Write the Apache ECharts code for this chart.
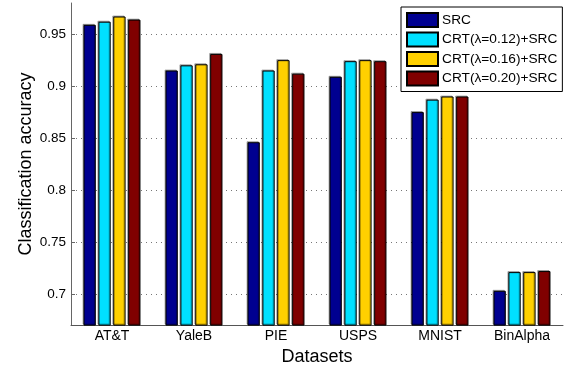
<!DOCTYPE html>
<html>
<head>
<meta charset="utf-8">
<script src="https://cdn.jsdelivr.net/npm/echarts@6/dist/echarts.min.js"></script>
<style>html,body{margin:0;padding:0;background:#fff}#c{width:567px;height:371px}</style>
</head>
<body>
<div id="c"></div>
<script>
var categories = ['AT&T', 'YaleB', 'PIE', 'USPS', 'MNIST', 'BinAlpha'];
var seriesNames = ['SRC', 'CRT(λ=0.12)+SRC', 'CRT(λ=0.16)+SRC', 'CRT(λ=0.20)+SRC'];
var srcVals   = [0.959, 0.915, 0.846, 0.909, 0.875, 0.703];
var crt012    = [0.962, 0.920, 0.915, 0.924, 0.887, 0.721];
var crt016    = [0.967, 0.921, 0.925, 0.925, 0.890, 0.721];
var crt020    = [0.964, 0.931, 0.912, 0.924, 0.890, 0.722];
var yTicks = [0.7, 0.75, 0.8, 0.85, 0.9, 0.95];
var colors = ['#000090', '#00E0FF', '#FFD000', '#800000'];

var allVals = [srcVals, crt012, crt016, crt020];
var font = 'Liberation Sans, Arial, sans-serif';
var series = allVals.map(function (vals, i) {
  return {
    name: seriesNames[i],
    type: 'bar',
    data: vals,
    barWidth: '15%',
    barGap: '21%',
    itemStyle: {
      color: colors[i],
      borderColor: '#000',
      borderWidth: 1,
      shadowColor: 'rgba(0,0,0,0.3)',
      shadowOffsetX: -1,
      shadowOffsetY: -1,
      shadowBlur: 0
    }
  };
});

var chart = echarts.init(document.getElementById('c'), null, {renderer: 'canvas'});
chart.setOption({
  animation: false,
  backgroundColor: '#fff',
  grid: {left: 71, right: 4, top: 3, bottom: 41},
  legend: {
    orient: 'vertical',
    left: 401,
    top: 7,
    padding: [5, 5, 5, 5],
    itemWidth: 31,
    itemHeight: 14,
    itemGap: 3.5,
    icon: 'rect',
    borderColor: '#000',
    borderWidth: 1,
    backgroundColor: '#fff',
    textStyle: {fontFamily: font, fontSize: 13.7, color: '#000', padding: [0, 0, 0, -1]},
    data: seriesNames
  },
  xAxis: {
    type: 'category',
    data: categories,
    name: 'Datasets',
    nameLocation: 'middle',
    nameGap: 19,
    nameTextStyle: {fontFamily: font, fontSize: 18, color: '#000'},
    axisLine: {lineStyle: {color: '#555', width: 1}},
    axisTick: {inside: true, alignWithLabel: true, length: 3, lineStyle: {color: '#555'}},
    axisLabel: {fontFamily: font, fontSize: 14, color: '#000', margin: 4}
  },
  yAxis: {
    type: 'value',
    min: 0.67,
    max: 0.98,
    name: 'Classification accuracy',
    nameLocation: 'middle',
    nameGap: 36,
    nameMoveOverlap: false,
    nameTextStyle: {fontFamily: font, fontSize: 18, color: '#000'},
    axisLine: {show: true, lineStyle: {color: '#666', width: 1}},
    axisTick: {show: true, inside: true, length: 4, customValues: yTicks, lineStyle: {color: '#666'}},
    axisLabel: {fontFamily: font, fontSize: 13.5, color: '#000', margin: 5, customValues: yTicks},
    splitLine: {show: true, lineStyle: {color: '#777', type: [1, 4], width: 1}}
  },
  series: series
});
</script>
</body>
</html>
